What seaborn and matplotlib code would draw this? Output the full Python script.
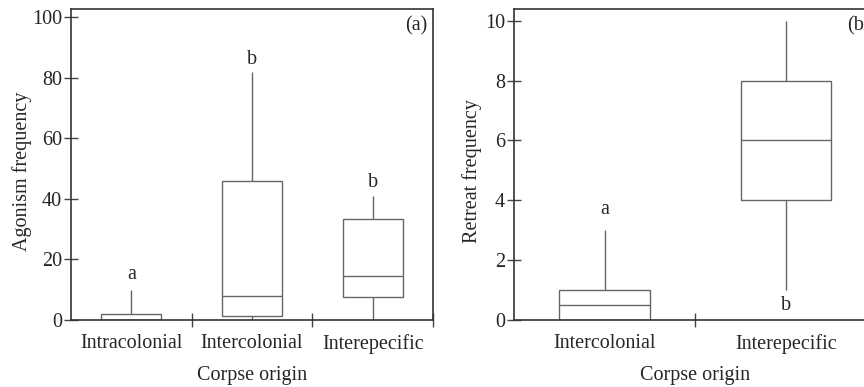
import numpy as np
import pandas as pd
import matplotlib
matplotlib.use("Agg")
import matplotlib.pyplot as plt
from matplotlib.ticker import FixedLocator
import seaborn as sns

# ---- data (five-number summaries) ----
agonism_categories = ["Intracolonial", "Intercolonial", "Interepecific"]
agonism_intracolonial = [0, 0, 0, 2, 10]
agonism_intercolonial = [0, 1.2, 8, 46, 82]
agonism_interspecific = [0, 7.5, 14.5, 33.2, 41]
agonism_letters = ["a", "b", "b"]
agonism_letter_y = [15, 86, 45.5]

retreat_categories = ["Intercolonial", "Interepecific"]
retreat_intercolonial = [0, 0, 0.5, 1, 3]
retreat_interspecific = [1, 4, 6, 8, 10]
retreat_letters = ["a", "b"]
retreat_letter_y = [3.7, 0.5]

agonism_yticks = [0, 20, 40, 60, 80, 100]
retreat_yticks = [0, 2, 4, 6, 8, 10]

df_a = pd.DataFrame({
    "origin": np.repeat(agonism_categories, 5),
    "value": agonism_intracolonial + agonism_intercolonial + agonism_interspecific,
})
df_r = pd.DataFrame({
    "origin": np.repeat(retreat_categories, 5),
    "value": retreat_intercolonial + retreat_interspecific,
})

sns.set_style("ticks")
plt.rcParams["font.family"] = ["Liberation Serif", "DejaVu Serif"]
plt.rcParams["font.size"] = 14.5

fig = plt.figure(figsize=(8.64, 3.87), dpi=100)
W, H = 864, 387
ax1 = fig.add_axes([71 / W, 67 / H, 362 / W, 310.7 / H])
ax2 = fig.add_axes([514 / W, 67 / H, 362.6 / W, 310.7 / H])

box_kw = dict(width=0.5, whis=(0, 100), showcaps=False, color="white",
              linecolor="#666666", linewidth=1.0, fliersize=0)

sns.boxplot(data=df_a, x="origin", y="value", order=agonism_categories, ax=ax1, **box_kw)
sns.boxplot(data=df_r, x="origin", y="value", order=retreat_categories, ax=ax2, **box_kw)

for ax, cats, yt, ylim, ylabel, letters, ly, tag, tagx, tagha in [
    (ax1, agonism_categories, agonism_yticks, (0, 102.6), "Agonism frequency",
     agonism_letters, agonism_letter_y, "(a)", 0.985, "right"),
    (ax2, retreat_categories, retreat_yticks, (0, 10.38), "Retreat frequency",
     retreat_letters, retreat_letter_y, "(b)", 0.918, "left"),
]:
    n = len(cats)
    ax.set_xlim(-0.5, n - 0.5)
    ax.set_ylim(*ylim)
    ax.set_yticks(yt)
    ax.set_xticks(range(n))
    ax.set_xticklabels(cats)
    ax.xaxis.set_minor_locator(FixedLocator([i + 0.5 for i in range(n)]))
    ax.tick_params(axis="x", which="major", length=0, pad=10, labelsize=14.5)
    ax.tick_params(axis="x", which="minor", direction="inout", length=10,
                   width=1.0, color="#444444")
    ax.tick_params(axis="y", which="major", direction="inout", length=10,
                   width=1.0, color="#444444", pad=1.5, labelsize=14.5)
    for sp in ax.spines.values():
        sp.set_visible(True)
        sp.set_color("#333333")
        sp.set_linewidth(1.2)
    ax.set_xlabel("Corpse origin", fontsize=14.5, labelpad=9)
    ax.set_ylabel(ylabel, fontsize=14.5)
    for i, (t, y) in enumerate(zip(letters, ly)):
        ax.text(i, y, t, ha="center", va="center", fontsize=14.5)
    ax.text(tagx, 0.946, tag, transform=ax.transAxes, ha=tagha, va="center",
            fontsize=14.5)

ax1.yaxis.set_label_coords(-0.108, 0.48)
ax2.yaxis.set_label_coords(-0.088, 0.48)

fig.savefig("out.png", dpi=100)
